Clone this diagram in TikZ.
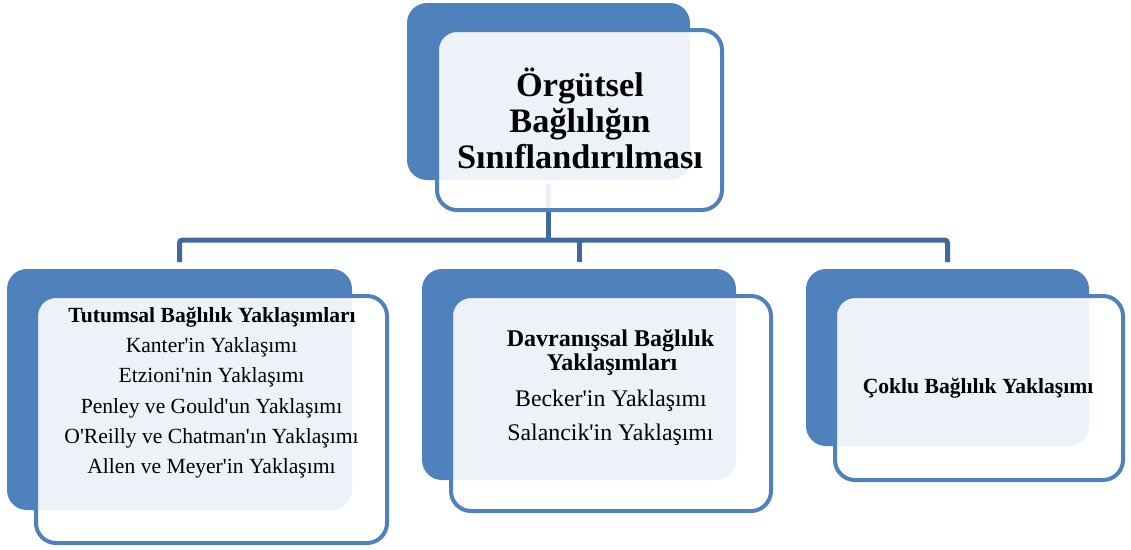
\documentclass[tikz,border=0pt]{standalone}
\usepackage{fontspec}
\setmainfont{Liberation Serif}
\definecolor{boxblue}{HTML}{4F81BD}
\definecolor{linkblue}{HTML}{41699B}
\newcommand{\apo}{\textquotesingle}
\begin{document}
\begin{tikzpicture}[x=1pt,y=-1pt,
  backbox/.style={fill=boxblue, draw=none, rounded corners=20pt, inner sep=0pt, outer sep=0pt},
  frontbox/.style={draw=boxblue, line width=4pt, fill=white, fill opacity=0.9, rounded corners=20pt, inner sep=0pt, outer sep=0pt},
  link/.style={draw=linkblue, line width=5pt},
  ttl/.style={font=\fontsize{34.3}{37}\selectfont\bfseries, anchor=base, inner sep=0pt},
  hd/.style={font=\fontsize{21.6}{25}\selectfont\bfseries, anchor=base, inner sep=0pt},
  itm/.style={font=\fontsize{21.6}{25}\selectfont, anchor=base, inner sep=0pt},
  hdbig/.style={font=\fontsize{24}{28}\selectfont\bfseries, anchor=base, inner sep=0pt},
  itmbig/.style={font=\fontsize{23.8}{28}\selectfont, anchor=base, inner sep=0pt}]
\useasboundingbox (0,0) rectangle (1131,549);

% back boxes
\path
  node[backbox, minimum width=283pt, minimum height=177pt] (rootback) at (548.5,91.5) {}
  node[backbox, minimum width=345pt, minimum height=241pt] (leftback) at (179.5,389.5) {}
  node[backbox, minimum width=314pt, minimum height=211pt] (midback) at (579,374.5) {}
  node[backbox, minimum width=283pt, minimum height=177pt] (rightback) at (947.5,357.5) {};

% connectors (behind the front boxes)
\coordinate (bus) at (548,240);
\draw[link] ([yshift=-4pt]rootback.south) -- (rootback.south |- bus);
\draw[link, rounded corners=3pt] ([yshift=7pt]leftback.north) |- (bus) -| ([yshift=7pt]rightback.north);
\draw[link] ([yshift=7pt]midback.north) -- (midback.north |- bus);

% front boxes
\path
  node[frontbox, minimum width=285pt, minimum height=180pt] (rootfront) at (579.5,120) {}
  node[frontbox, minimum width=351pt, minimum height=247pt] (leftfront) at (211.5,419.5) {}
  node[frontbox, minimum width=320pt, minimum height=215pt] (midfront) at (611,403.5) {}
  node[frontbox, minimum width=288pt, minimum height=184pt] (rightfront) at (979,388) {};

% title
\node[ttl] (t1) at (580,96) {Örgütsel};
\node[ttl] (t2) at (580,132) {Bağlılığın};
\node[ttl] (t3) at (580,168) {Sınıflandırılması};

% left box
\node[hd]  (l0) at (212,322) {Tutumsal Bağlılık Yaklaşımları};
\node[itm] (l1) at (211.5,352) {Kanter\apo in Yaklaşımı};
\node[itm] (l2) at (211.5,382) {Etzioni\apo nin Yaklaşımı};
\node[itm] (l3) at (211.5,413) {Penley ve Gould\apo un Yaklaşımı};
\node[itm] (l4) at (211.5,443) {O\apo Reilly ve Chatman\apo ın Yaklaşımı};
\node[itm] (l5) at (211.5,473) {Allen ve Meyer\apo in Yaklaşımı};

% middle box
\node[hdbig]  (m0) at (610.5,346) {Davranışsal Bağlılık};
\node[hdbig]  (m1) at (612,370) {Yaklaşımları};
\node[itmbig] (m2) at (611,406) {Becker\apo in Yaklaşımı};
\node[itmbig] (m3) at (610.5,440) {Salancik\apo in Yaklaşımı};

% right box
\node[hd]  (r0) at (978,393) {Çoklu Bağlılık Yaklaşımı};
\end{tikzpicture}
\end{document}
